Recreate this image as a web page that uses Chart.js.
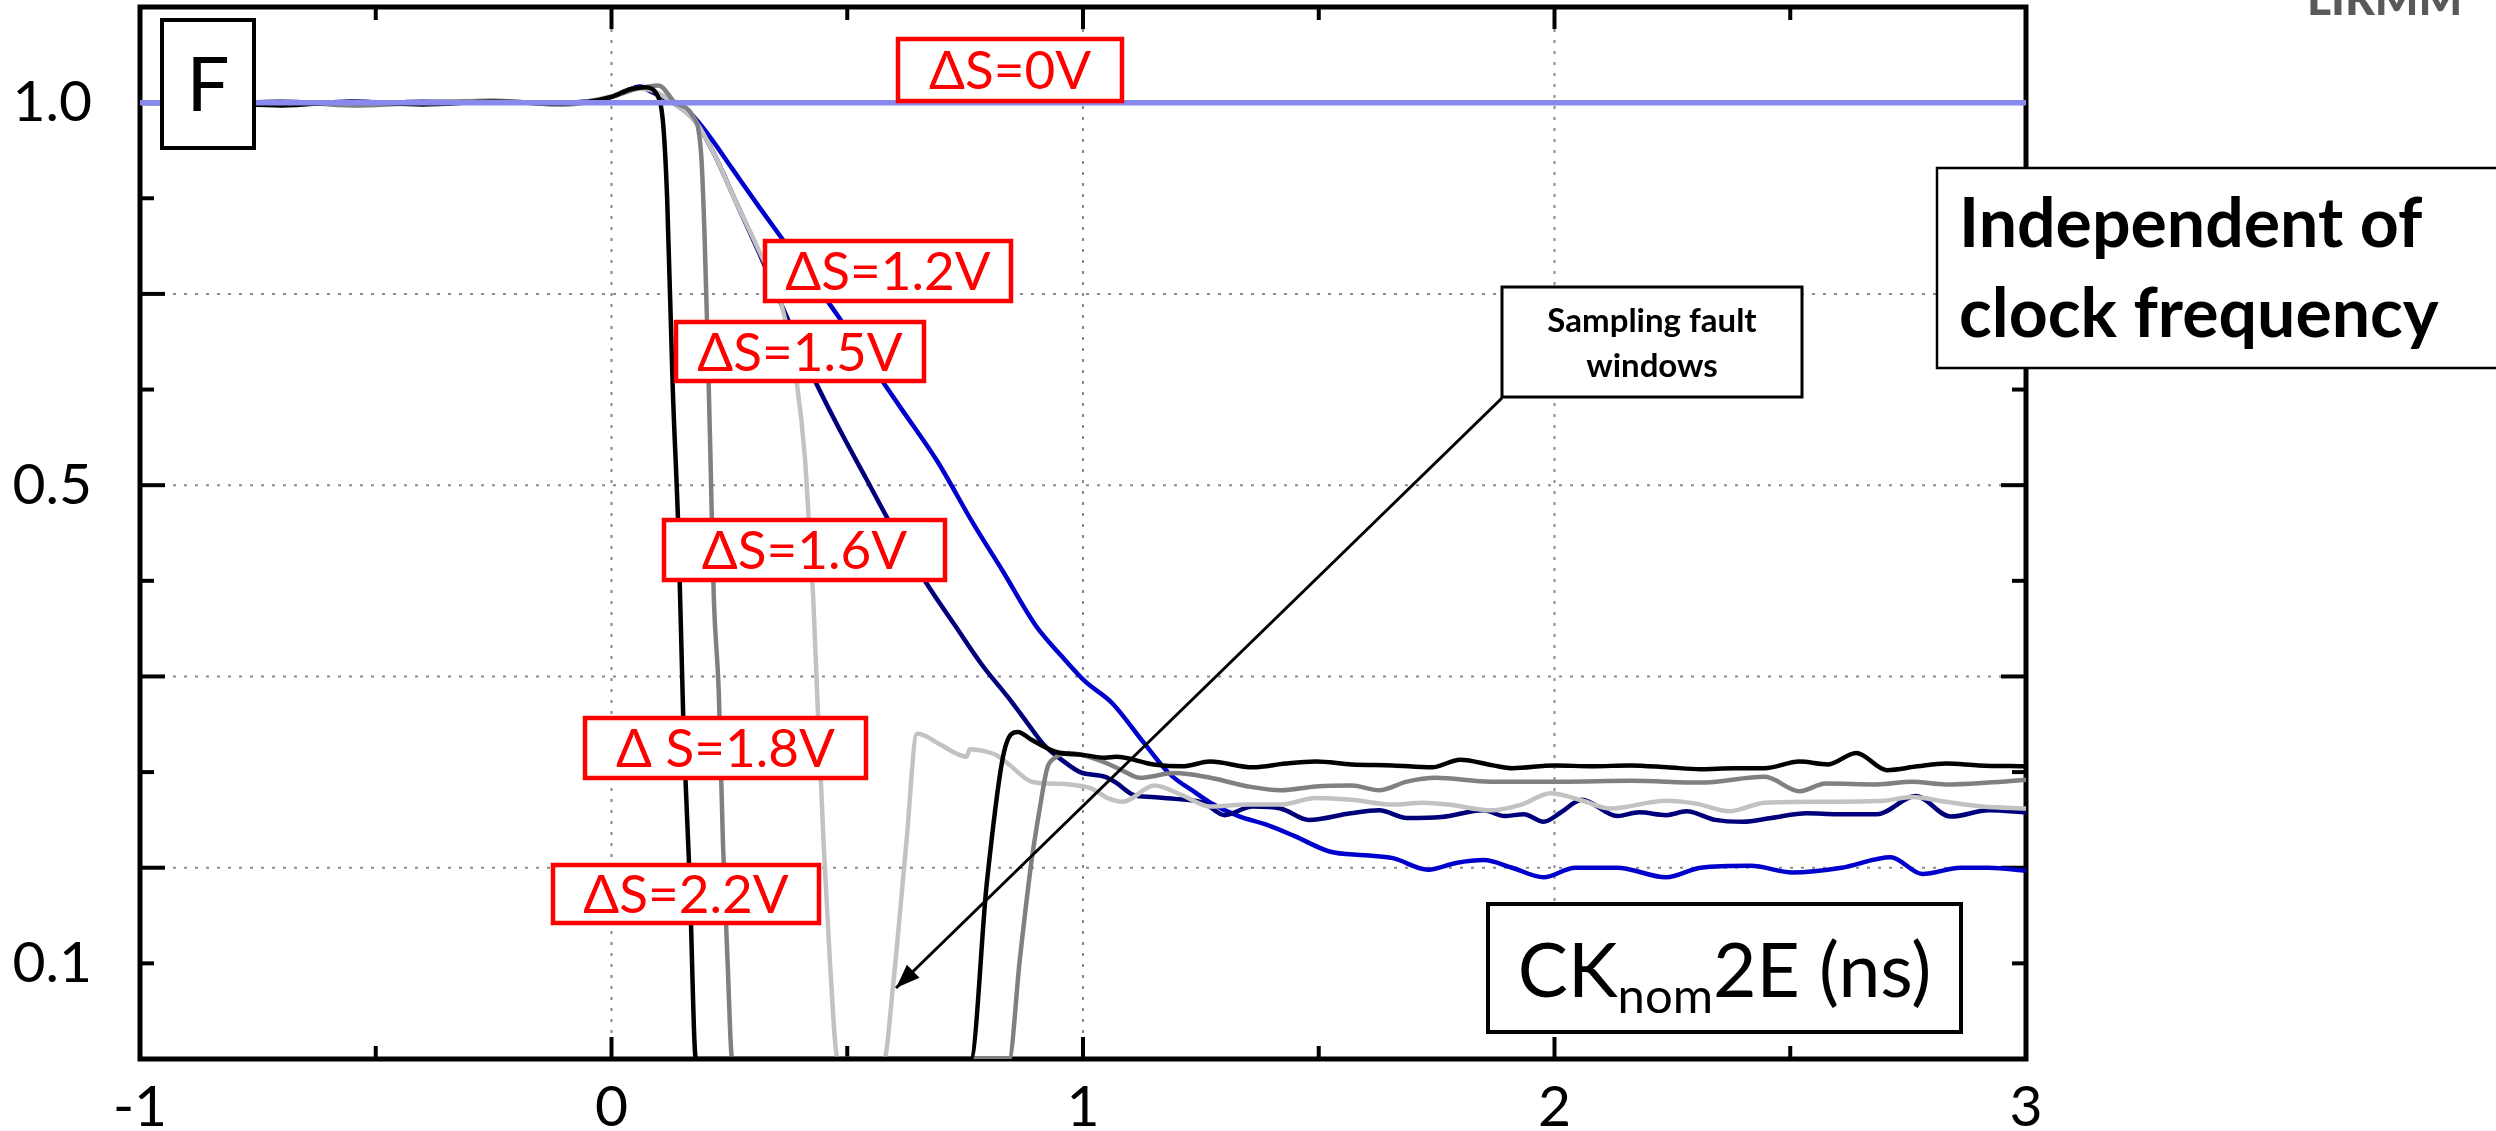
<!DOCTYPE html>
<html><head><meta charset="utf-8">
<script src="https://cdn.jsdelivr.net/npm/chart.js@4.4.0/dist/chart.umd.min.js"></script>
<style>html,body{margin:0;padding:0;background:#fff;}canvas{display:block;}</style>
</head><body>
<canvas id="c" width="2496" height="1131" style="width:2496px;height:1131px"></canvas>
<script>
// ---------------- DATA ----------------
// time axis: CKnom2E (ns); value axis: F
const t_0  = [-1, 3];
const f_0  = [1.0, 1.0];

const t_22 = [-1,-0.85,-0.7,-0.55,-0.4,-0.25,-0.1,0, 0.04,0.07,0.1,0.11,0.118,0.13,0.142,0.152,0.166,0.179, 0.762,0.796,0.832,0.862,0.89,0.943,1.0,1.047,1.07,1.15, 1.21,1.27,1.36,1.43,1.494,1.57,1.657,1.74,1.80,1.87, 1.91,2.0,2.08,2.16,2.24,2.31,2.38,2.445,2.52,2.58, 2.64,2.705,2.77,2.83,2.9,3.0];
const f_22 = [1.0,1.0,0.997,1.001,0.998,1.001,0.999,1.006, 1.014,1.016,1.005,0.975,0.9,0.7,0.55,0.36,0.184,0.0, 0.0,0.184,0.32,0.342,0.334,0.321,0.318,0.315,0.316,0.308, 0.306,0.311,0.305,0.309,0.311,0.308,0.307,0.305,0.313,0.307, 0.304,0.307,0.306,0.307,0.305,0.303,0.304,0.304,0.311,0.308, 0.32,0.302,0.306,0.309,0.307,0.306];

const t_18 = [-1,-0.85,-0.7,-0.55,-0.4,-0.25,-0.1,0, 0.05,0.1,0.135,0.171,0.19,0.197,0.204,0.21,0.217,0.2275,0.2365,0.246,0.256, 0.843,0.866,0.89,0.909,0.924,0.938,0.97,1.047,1.09, 1.12,1.195,1.27,1.35,1.419,1.494,1.57,1.628,1.687,1.747, 1.865,2.014,2.163,2.31,2.446,2.52,2.575,2.684,2.758,2.83, 2.92,3.0];
const f_18 = [1.0,0.998,1.001,0.997,1.0,1.002,0.998,1.006, 1.014,1.018,1.0,0.987,0.947,0.867,0.747,0.627,0.482,0.384,0.224,0.104,0.0, 0.0,0.104,0.204,0.264,0.304,0.314,0.32,0.31,0.30, 0.294,0.299,0.294,0.285,0.281,0.285,0.286,0.281,0.29,0.294, 0.29,0.29,0.291,0.289,0.295,0.28,0.288,0.287,0.29,0.287, 0.289,0.292];

const t_16 = [-1,-0.85,-0.7,-0.55,-0.4,-0.25,-0.1,0, 0.05,0.09,0.13,0.179,0.217,0.265,0.313,0.36,0.393,0.41,0.42,0.428,0.436,0.45,0.463,0.48, 0.578,0.597,0.625,0.648,0.66,0.70,0.729,0.753,0.76,0.79, 0.815,0.843,0.89,0.928,0.972,1.017,1.051,1.085,1.151,1.21, 1.27,1.35,1.419,1.494,1.57,1.657,1.72,1.776,1.865,1.93, 1.992,2.06,2.118,2.237,2.3,2.371,2.446,2.57,2.699,2.758, 2.83,2.907,3.0];
const f_16 = [1.0,1.001,0.998,1.0,0.999,1.002,0.998,1.007, 1.015,1.012,1.0,0.98,0.947,0.895,0.845,0.79,0.707,0.63,0.55,0.48,0.384,0.224,0.104,0.0, 0.0,0.076,0.224,0.34,0.339,0.328,0.32,0.316,0.324,0.322, 0.318,0.308,0.29,0.288,0.287,0.283,0.273,0.269,0.286,0.276, 0.264,0.266,0.266,0.273,0.271,0.266,0.268,0.266,0.26,0.266, 0.278,0.27,0.262,0.27,0.267,0.259,0.268,0.269,0.27,0.274, 0.269,0.264,0.262];

const t_15 = [-1,-0.85,-0.7,-0.55,-0.4,-0.25,-0.1,0, 0.03,0.06,0.09,0.13,0.179,0.217,0.265,0.313,0.369,0.426, 0.483,0.54,0.597,0.6725,0.729,0.786,0.843,0.881,0.918,0.957, 0.994,1.047,1.07,1.108,1.146,1.195,1.255,1.30,1.36,1.419, 1.479,1.568,1.628,1.687,1.76,1.85,1.894,1.935,1.977,2.014, 2.058,2.133,2.18,2.237,2.28,2.341,2.40,2.46,2.535,2.6, 2.684,2.766,2.84,2.921,3.0];
const f_15 = [1.0,0.999,1.001,0.998,1.001,1.0,1.0,1.006, 1.012,1.016,1.01,1.0,0.98,0.947,0.895,0.843,0.779,0.715, 0.659,0.607,0.555,0.494,0.453,0.412,0.377,0.352,0.328,0.312, 0.30,0.295,0.289,0.276,0.274,0.272,0.268,0.255,0.264,0.262, 0.25,0.257,0.26,0.252,0.253,0.26,0.254,0.256,0.248,0.258, 0.271,0.254,0.258,0.255,0.259,0.25,0.248,0.252,0.257,0.256, 0.256,0.275,0.2535,0.26,0.258];

const t_12 = [-1,-0.85,-0.7,-0.55,-0.4,-0.25,-0.1,0, 0.03,0.06,0.09,0.13,0.171,0.209,0.256,0.313,0.36,0.426, 0.483,0.549,0.616,0.691,0.767,0.83,0.90,0.957,1.004,1.062, 1.13,1.184,1.24,1.27,1.33,1.389,1.449,1.523,1.598,1.657, 1.732,1.791,1.85,1.91,1.977,2.044,2.133,2.237,2.31,2.416, 2.505,2.609,2.713,2.78,2.862,2.921,3.0];
const f_12 = [1.0,1.0,0.998,1.001,0.999,1.001,0.999,1.006, 1.012,1.017,1.012,1.0,0.987,0.964,0.931,0.891,0.859,0.815, 0.775,0.727,0.679,0.625,0.56,0.51,0.453,0.42,0.395,0.372, 0.33,0.298,0.278,0.268,0.254,0.245,0.233,0.217,0.213,0.21, 0.198,0.205,0.208,0.2,0.19,0.2,0.2,0.19,0.2,0.202, 0.195,0.2,0.211,0.1935,0.2,0.2,0.197];

const seriesLabels = ['ΔS=0V','ΔS=2.2V','ΔS=1.8V','ΔS=1.6V','ΔS=1.5V','ΔS=1.2V'];

// axis tick labels
const xTickPos  = [-1, 0, 1, 2, 3];
const xTickText = ['-1', '0', '1', '2', '3'];
const yTickPos  = [1.0, 0.6, 0.1];
const yTickText = ['1.0', '0.5', '0.1'];
const gridX = [0, 1, 2];
const gridY = [0.2, 0.4, 0.6, 0.8, 1.0];
const majorTickX = [-1, 0, 1, 2, 3];
const minorTickX = [-0.5, 0.5, 1.5, 2.5];
const majorTickY = [0.2, 0.4, 0.6, 0.8, 1.0];
const minorTickY = [0.1, 0.3, 0.5, 0.7, 0.9];

// ---------------- STYLE ----------------
const FONT = 'Lato, "Open Sans", "DejaVu Sans", sans-serif';
const seriesColors = ['#8888ee', '#000000', '#808080', '#c2c2c2', '#00007a', '#0000cc'];
const seriesWidths = [5.5, 4.5, 4.5, 4.5, 4.5, 4.5];

function pts(t, f) { return t.map((x, i) => ({x: x, y: f[i]})); }
const seriesData = [pts(t_0,f_0), pts(t_22,f_22), pts(t_18,f_18), pts(t_16,f_16), pts(t_15,f_15), pts(t_12,f_12)];

const frameAndGrid = {
  id: 'frameAndGrid',
  beforeDatasetsDraw(chart) {
    const {ctx, chartArea: a, scales: {x, y}} = chart;
    ctx.save();
    ctx.strokeStyle = '#8a8a8a'; ctx.lineWidth = 2; ctx.setLineDash([3, 8]);
    gridX.forEach(v => { const px = x.getPixelForValue(v); ctx.beginPath(); ctx.moveTo(px, a.top); ctx.lineTo(px, a.bottom); ctx.stroke(); });
    gridY.forEach(v => { const py = y.getPixelForValue(v); ctx.beginPath(); ctx.moveTo(a.left, py); ctx.lineTo(a.right, py); ctx.stroke(); });
    ctx.setLineDash([]);
    ctx.strokeStyle = '#000'; ctx.lineWidth = 5;
    ctx.strokeRect(a.left, a.top, a.right - a.left, a.bottom - a.top);
    ctx.lineWidth = 4;
    const tx = (v, len) => { const px = x.getPixelForValue(v);
      ctx.beginPath(); ctx.moveTo(px, a.bottom); ctx.lineTo(px, a.bottom - len); ctx.stroke();
      ctx.beginPath(); ctx.moveTo(px, a.top); ctx.lineTo(px, a.top + len); ctx.stroke(); };
    const ty = (v, len) => { const py = y.getPixelForValue(v);
      ctx.beginPath(); ctx.moveTo(a.left, py); ctx.lineTo(a.left + len, py); ctx.stroke();
      ctx.beginPath(); ctx.moveTo(a.right, py); ctx.lineTo(a.right - len, py); ctx.stroke(); };
    majorTickX.forEach(v => tx(v, 22)); minorTickX.forEach(v => tx(v, 13));
    majorTickY.forEach(v => ty(v, 25)); minorTickY.forEach(v => ty(v, 14));
    ctx.restore();
  }
};

function box(ctx, x, y, w, h, color, lw) {
  ctx.fillStyle = '#fff'; ctx.fillRect(x, y, w, h);
  ctx.strokeStyle = color; ctx.lineWidth = lw; ctx.strokeRect(x, y, w, h);
}
function centerText(ctx, text, cx, cy, size, color, weight) {
  ctx.font = `${weight || ''} ${size}px ${FONT}`;
  ctx.fillStyle = color; ctx.textAlign = 'center'; ctx.textBaseline = 'alphabetic';
  ctx.fillText(text, cx, cy + size * 0.36);
}

const annotations = {
  id: 'annotations',
  afterDatasetsDraw(chart) {
    const ctx = chart.ctx;
    ctx.save();
    const reds = [
      [seriesLabels[0], 898, 39, 224, 62],
      [seriesLabels[5], 765, 241, 246, 60],
      [seriesLabels[4], 676, 322, 248, 59],
      [seriesLabels[3], 664, 520, 281, 60],
      ['Δ S=1.8V',      585, 718, 281, 60],
      [seriesLabels[1], 553, 865, 266, 58]
    ];
    reds.forEach(r => { box(ctx, r[1], r[2], r[3], r[4], '#ff0000', 4.5); centerText(ctx, r[0], r[1] + r[3]/2, r[2] + r[4]/2, 53, '#ff0000'); });

    box(ctx, 162, 20, 92, 128, '#000', 4);
    centerText(ctx, 'F', 208, 84, 76, '#000');

    ctx.strokeStyle = '#000'; ctx.lineWidth = 3;
    const ax0 = 1502, ay0 = 398, ax1 = 896, ay1 = 988;
    ctx.beginPath(); ctx.moveTo(ax0, ay0); ctx.lineTo(ax1, ay1); ctx.stroke();
    const ang = Math.atan2(ay1 - ay0, ax1 - ax0), L = 24, W = 9;
    ctx.fillStyle = '#000'; ctx.beginPath();
    ctx.moveTo(ax1, ay1);
    ctx.lineTo(ax1 - L*Math.cos(ang) + W*Math.sin(ang), ay1 - L*Math.sin(ang) - W*Math.cos(ang));
    ctx.lineTo(ax1 - L*Math.cos(ang) - W*Math.sin(ang), ay1 - L*Math.sin(ang) + W*Math.cos(ang));
    ctx.closePath(); ctx.fill();
    box(ctx, 1502, 287, 300, 110, '#000', 3);
    ctx.font = `bold 33px ${FONT}`; ctx.fillStyle = '#000'; ctx.textAlign = 'center'; ctx.textBaseline = 'alphabetic';
    ctx.fillText('Sampling fault', 1652, 332);
    ctx.fillText('windows', 1652, 377);

    box(ctx, 1488, 904, 473, 128, '#000', 4);
    ctx.textAlign = 'left'; ctx.fillStyle = '#000';
    ctx.font = `75px ${FONT}`; const w1 = ctx.measureText('CK').width, w3 = ctx.measureText('2E (ns)').width;
    ctx.font = `49px ${FONT}`; const w2 = ctx.measureText('nom').width;
    let sx = 1724.5 - (w1 + w2 + w3) / 2;
    ctx.font = `75px ${FONT}`; ctx.fillText('CK', sx, 997); sx += w1;
    ctx.font = `49px ${FONT}`; ctx.fillText('nom', sx, 1013); sx += w2;
    ctx.font = `75px ${FONT}`; ctx.fillText('2E (ns)', sx, 997);

    box(ctx, 1937, 168, 600, 200, '#000', 2.5);
    ctx.font = `bold 68px ${FONT}`; ctx.fillStyle = '#000'; ctx.textAlign = 'left';
    ctx.fillText('Independent of', 1959, 247);
    ctx.fillText('clock frequency', 1959, 337);

    ctx.font = `900 46px ${FONT}`; ctx.fillStyle = '#58595b';
    ctx.fillText('LIRMM', 2307, 15);
    ctx.restore();
  }
};

new Chart(document.getElementById('c'), {
  type: 'line',
  data: {
    datasets: seriesData.map((d, i) => ({
      label: seriesLabels[i], data: d, borderColor: seriesColors[i], borderWidth: seriesWidths[i],
      pointRadius: 0, cubicInterpolationMode: 'monotone', fill: false, borderJoinStyle: 'round'
    }))
  },
  options: {
    responsive: false, animation: false, devicePixelRatio: 1,
    layout: { padding: { left: 0, right: 470, top: 7, bottom: 0 } },
    plugins: { legend: { display: false }, tooltip: { enabled: false } },
    scales: {
      x: {
        type: 'linear', min: -1, max: 3,
        afterFit(s) { s.height = 72; s.paddingLeft = 0; s.paddingRight = 0; },
        grid: { display: false, drawTicks: false }, border: { display: false },
        ticks: { stepSize: 0.5, autoSkip: false, maxRotation: 0, padding: 14, color: '#000', font: { family: FONT, size: 57 },
          callback(v) { const i = xTickPos.findIndex(p => Math.abs(p - v) < 1e-6); return i >= 0 ? xTickText[i] : ''; } }
      },
      y: {
        type: 'linear', min: 0, max: 1.1,
        afterFit(s) { s.width = 140; s.paddingTop = 0; s.paddingBottom = 0; },
        grid: { display: false, drawTicks: false }, border: { display: false },
        ticks: { stepSize: 0.1, autoSkip: false, padding: 48, color: '#000', font: { family: FONT, size: 57 },
          callback(v) { const i = yTickPos.findIndex(p => Math.abs(p - v) < 1e-6); return i >= 0 ? yTickText[i] : ''; } }
      }
    }
  },
  plugins: [frameAndGrid, annotations]
});
</script>
</body></html>
